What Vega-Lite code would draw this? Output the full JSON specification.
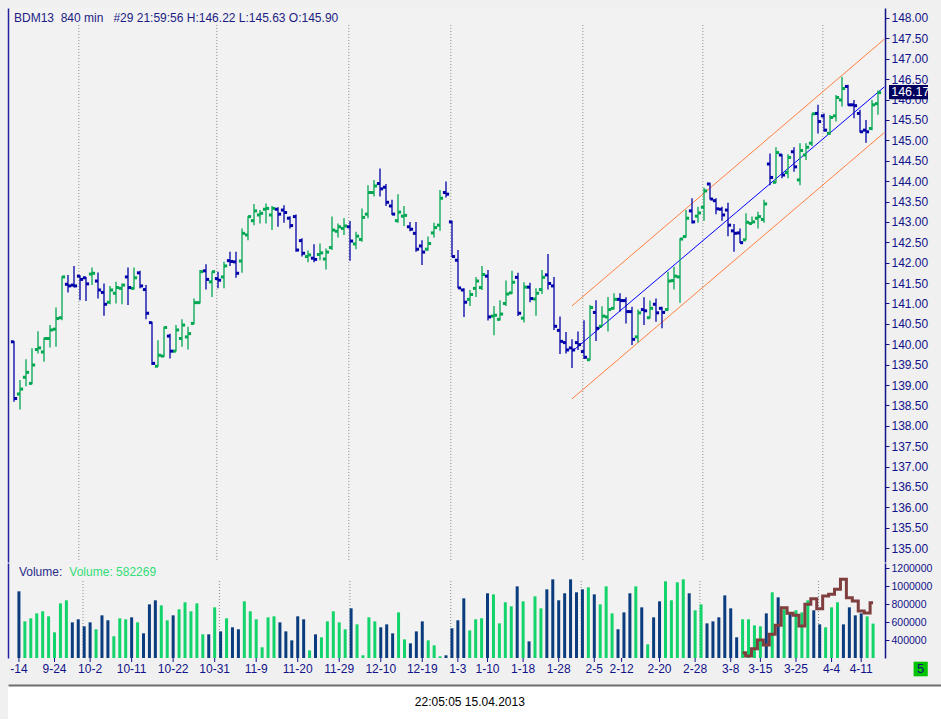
{
  "$schema": "https://vega.github.io/schema/vega-lite/v6.json",
  "background": "#F0F0F0",
  "padding": {"left": 8, "top": 8, "right": 0, "bottom": 0},
  "config": {
    "view": {"stroke": null, "fill": "#F2F2F2"},
    "font": "Liberation Sans",
    "axis": {"grid": false, "domainColor": "#12128A", "tickColor": "#12128A", "labelColor": "#12128A", "labelFont": "Liberation Sans", "domainWidth": 1.5, "tickWidth": 1}
  },
  "datasets": {
    "grid": [{"g": 10.8}, {"g": 33.8}, {"g": 55.8}, {"g": 72.8}, {"g": 94.8}, {"g": 114.8}, {"g": 134.8}],
    "channel": [
      {"line": "mid", "x": 93, "x2": 145.05, "y": 139.82, "y2": 146.31},
      {"line": "edge", "x": 93, "x2": 145.05, "y": 140.94, "y2": 147.48},
      {"line": "edge", "x": 93, "x2": 145.05, "y": 138.66, "y2": 145.19}
    ],
    "ma": [
      {"i": 122, "m": 259000}, {"i": 123, "m": 222000}, {"i": 124, "m": 304000}, {"i": 125, "m": 400000},
      {"i": 126, "m": 344000}, {"i": 127, "m": 463000}, {"i": 128, "m": 563000}, {"i": 129, "m": 759000},
      {"i": 130, "m": 696000}, {"i": 131, "m": 674000}, {"i": 132, "m": 556000}, {"i": 133, "m": 796000},
      {"i": 134, "m": 859000}, {"i": 135, "m": 748000}, {"i": 136, "m": 889000}, {"i": 137, "m": 907000},
      {"i": 138, "m": 963000}, {"i": 139, "m": 1074000}, {"i": 140, "m": 870000}, {"i": 141, "m": 833000},
      {"i": 142, "m": 722000}, {"i": 143, "m": 700000}, {"i": 144, "m": 815000}
    ],
    "ticks": [
      {"t": 0, "lab": "-14"}, {"t": 6, "lab": "9-24"}, {"t": 12, "lab": "10-2"}, {"t": 19, "lab": "10-11"},
      {"t": 26, "lab": "10-22"}, {"t": 33, "lab": "10-31"}, {"t": 40, "lab": "11-9"}, {"t": 47, "lab": "11-20"},
      {"t": 54, "lab": "11-29"}, {"t": 61, "lab": "12-10"}, {"t": 68, "lab": "12-19"}, {"t": 74, "lab": "1-3"},
      {"t": 79, "lab": "1-10"}, {"t": 85, "lab": "1-18"}, {"t": 91, "lab": "1-28"}, {"t": 97, "lab": "2-5"},
      {"t": 101.6, "lab": "2-12"}, {"t": 108, "lab": "2-20"}, {"t": 114, "lab": "2-28"}, {"t": 120, "lab": "3-8"},
      {"t": 125, "lab": "3-15"}, {"t": 131, "lab": "3-25"}, {"t": 137, "lab": "4-4"}, {"t": 142, "lab": "4-11"}
    ],
    "bars": [
      {"i":0,"o":140.06,"h":140.08,"l":138.59,"c":138.67,"v":940800,"d":"d"},
      {"i":1,"o":138.78,"h":139.12,"l":138.40,"c":138.90,"v":607000,"d":"u"},
      {"i":2,"o":139.19,"h":139.63,"l":138.97,"c":139.31,"v":641000,"d":"u"},
      {"i":3,"o":139.04,"h":139.90,"l":139.02,"c":139.49,"v":696000,"d":"u"},
      {"i":4,"o":139.87,"h":140.32,"l":139.77,"c":139.91,"v":719000,"d":"u"},
      {"i":5,"o":139.81,"h":140.16,"l":139.57,"c":140.14,"v":663000,"d":"u"},
      {"i":6,"o":140.14,"h":140.47,"l":139.92,"c":140.35,"v":485000,"d":"u"},
      {"i":7,"o":140.37,"h":140.90,"l":139.94,"c":140.63,"v":807000,"d":"u"},
      {"i":8,"o":140.65,"h":141.67,"l":140.59,"c":141.65,"v":841000,"d":"u"},
      {"i":9,"o":141.47,"h":141.70,"l":141.27,"c":141.43,"v":596000,"d":"d"},
      {"i":10,"o":141.45,"h":141.92,"l":141.39,"c":141.43,"v":630000,"d":"d"},
      {"i":11,"o":141.67,"h":141.69,"l":141.08,"c":141.59,"v":552000,"d":"d"},
      {"i":12,"o":141.63,"h":141.65,"l":141.06,"c":141.48,"v":596000,"d":"d"},
      {"i":13,"o":141.72,"h":141.88,"l":141.45,"c":141.74,"v":519000,"d":"u"},
      {"i":14,"o":141.55,"h":141.76,"l":141.12,"c":141.33,"v":674000,"d":"d"},
      {"i":15,"o":141.27,"h":141.49,"l":140.70,"c":140.98,"v":619000,"d":"d"},
      {"i":16,"o":141.03,"h":141.43,"l":140.98,"c":141.33,"v":441000,"d":"u"},
      {"i":17,"o":141.25,"h":141.53,"l":141.00,"c":141.39,"v":641000,"d":"u"},
      {"i":18,"o":141.37,"h":141.49,"l":140.98,"c":141.45,"v":630000,"d":"u"},
      {"i":19,"o":141.65,"h":141.88,"l":140.96,"c":141.39,"v":652000,"d":"d"},
      {"i":20,"o":141.37,"h":141.88,"l":141.34,"c":141.63,"v":596000,"d":"u"},
      {"i":21,"o":141.75,"h":141.80,"l":141.37,"c":141.43,"v":474000,"d":"d"},
      {"i":22,"o":141.34,"h":141.45,"l":140.61,"c":140.76,"v":796000,"d":"d"},
      {"i":23,"o":140.53,"h":140.55,"l":139.49,"c":139.53,"v":841000,"d":"d"},
      {"i":24,"o":139.46,"h":140.10,"l":139.45,"c":139.73,"v":785000,"d":"u"},
      {"i":25,"o":139.71,"h":140.43,"l":139.69,"c":140.41,"v":619000,"d":"u"},
      {"i":26,"o":140.20,"h":140.26,"l":139.65,"c":139.83,"v":674000,"d":"d"},
      {"i":27,"o":139.83,"h":140.47,"l":139.82,"c":140.35,"v":741000,"d":"u"},
      {"i":28,"o":140.14,"h":140.61,"l":139.94,"c":140.47,"v":819000,"d":"u"},
      {"i":29,"o":140.18,"h":140.43,"l":139.87,"c":140.26,"v":719000,"d":"u"},
      {"i":30,"o":140.51,"h":141.12,"l":140.49,"c":141.02,"v":807000,"d":"u"},
      {"i":31,"o":141.02,"h":141.82,"l":141.00,"c":141.78,"v":463000,"d":"u"},
      {"i":32,"o":141.80,"h":141.96,"l":141.34,"c":141.59,"v":463000,"d":"d"},
      {"i":33,"o":141.53,"h":141.79,"l":141.16,"c":141.78,"v":763000,"d":"u"},
      {"i":34,"o":141.61,"h":141.78,"l":141.37,"c":141.57,"v":496000,"d":"d"},
      {"i":35,"o":141.65,"h":142.02,"l":141.37,"c":141.92,"v":641000,"d":"u"},
      {"i":36,"o":142.05,"h":142.27,"l":141.92,"c":142.03,"v":541000,"d":"d"},
      {"i":37,"o":142.02,"h":142.27,"l":141.63,"c":141.74,"v":519000,"d":"d"},
      {"i":38,"o":142.04,"h":142.84,"l":141.75,"c":142.72,"v":830000,"d":"u"},
      {"i":39,"o":142.68,"h":143.14,"l":142.55,"c":143.13,"v":719000,"d":"u"},
      {"i":40,"o":143.03,"h":143.44,"l":142.92,"c":143.27,"v":630000,"d":"u"},
      {"i":41,"o":143.17,"h":143.29,"l":142.96,"c":143.21,"v":319000,"d":"u"},
      {"i":42,"o":143.31,"h":143.45,"l":142.96,"c":143.33,"v":652000,"d":"u"},
      {"i":43,"o":143.17,"h":143.39,"l":142.80,"c":143.33,"v":663000,"d":"u"},
      {"i":44,"o":143.31,"h":143.36,"l":142.88,"c":143.19,"v":596000,"d":"d"},
      {"i":45,"o":143.29,"h":143.41,"l":142.98,"c":143.23,"v":496000,"d":"d"},
      {"i":46,"o":143.09,"h":143.14,"l":142.84,"c":142.91,"v":396000,"d":"d"},
      {"i":47,"o":143.13,"h":143.18,"l":142.27,"c":142.31,"v":663000,"d":"d"},
      {"i":48,"o":142.54,"h":142.60,"l":142.15,"c":142.23,"v":630000,"d":"d"},
      {"i":49,"o":142.15,"h":142.30,"l":142.01,"c":142.19,"v":285000,"d":"u"},
      {"i":50,"o":142.11,"h":142.45,"l":142.01,"c":142.08,"v":463000,"d":"d"},
      {"i":51,"o":142.20,"h":142.47,"l":142.06,"c":142.24,"v":430000,"d":"u"},
      {"i":52,"o":142.09,"h":142.35,"l":141.83,"c":142.26,"v":607000,"d":"u"},
      {"i":53,"o":142.37,"h":143.13,"l":142.31,"c":142.80,"v":719000,"d":"u"},
      {"i":54,"o":142.77,"h":142.96,"l":142.62,"c":142.88,"v":596000,"d":"u"},
      {"i":55,"o":142.84,"h":143.09,"l":142.68,"c":142.90,"v":519000,"d":"u"},
      {"i":56,"o":142.88,"h":143.02,"l":142.05,"c":142.53,"v":752000,"d":"d"},
      {"i":57,"o":142.46,"h":142.76,"l":142.33,"c":142.65,"v":574000,"d":"u"},
      {"i":58,"o":142.57,"h":143.33,"l":142.51,"c":143.11,"v":230000,"d":"u"},
      {"i":59,"o":143.19,"h":143.90,"l":143.09,"c":143.72,"v":652000,"d":"u"},
      {"i":60,"o":143.72,"h":144.03,"l":143.62,"c":143.88,"v":607000,"d":"u"},
      {"i":61,"o":143.94,"h":144.31,"l":143.62,"c":143.81,"v":541000,"d":"d"},
      {"i":62,"o":143.85,"h":143.93,"l":143.39,"c":143.48,"v":574000,"d":"d"},
      {"i":63,"o":143.39,"h":143.54,"l":143.17,"c":143.19,"v":474000,"d":"d"},
      {"i":64,"o":143.03,"h":143.68,"l":142.98,"c":143.24,"v":707000,"d":"u"},
      {"i":65,"o":143.14,"h":143.39,"l":142.90,"c":143.16,"v":407000,"d":"u"},
      {"i":66,"o":142.88,"h":143.00,"l":142.77,"c":142.82,"v":363000,"d":"d"},
      {"i":67,"o":142.72,"h":143.00,"l":142.27,"c":142.33,"v":496000,"d":"d"},
      {"i":68,"o":142.41,"h":142.55,"l":141.94,"c":142.26,"v":607000,"d":"d"},
      {"i":69,"o":142.33,"h":142.64,"l":142.29,"c":142.47,"v":396000,"d":"u"},
      {"i":70,"o":142.73,"h":142.98,"l":142.62,"c":142.86,"v":341000,"d":"u"},
      {"i":71,"o":142.92,"h":143.78,"l":142.78,"c":143.58,"v":219000,"d":"u"},
      {"i":72,"o":143.72,"h":143.99,"l":143.60,"c":143.68,"v":230000,"d":"d"},
      {"i":73,"o":143.00,"h":143.03,"l":142.13,"c":142.15,"v":530000,"d":"d"},
      {"i":74,"o":142.06,"h":142.31,"l":141.37,"c":141.38,"v":619000,"d":"d"},
      {"i":75,"o":141.33,"h":141.37,"l":140.67,"c":141.03,"v":863000,"d":"d"},
      {"i":76,"o":141.10,"h":141.33,"l":140.94,"c":141.22,"v":507000,"d":"u"},
      {"i":77,"o":141.37,"h":141.65,"l":141.16,"c":141.55,"v":630000,"d":"u"},
      {"i":78,"o":141.39,"h":141.92,"l":141.33,"c":141.71,"v":641000,"d":"u"},
      {"i":79,"o":141.67,"h":141.82,"l":140.58,"c":140.67,"v":919000,"d":"d"},
      {"i":80,"o":140.69,"h":140.94,"l":140.22,"c":140.71,"v":907000,"d":"u"},
      {"i":81,"o":140.61,"h":141.08,"l":140.58,"c":140.74,"v":585000,"d":"u"},
      {"i":82,"o":141.00,"h":141.56,"l":140.94,"c":141.23,"v":819000,"d":"u"},
      {"i":83,"o":141.26,"h":141.80,"l":141.23,"c":141.52,"v":774000,"d":"u"},
      {"i":84,"o":141.64,"h":141.75,"l":140.69,"c":140.76,"v":996000,"d":"d"},
      {"i":85,"o":140.64,"h":141.52,"l":140.53,"c":141.40,"v":830000,"d":"u"},
      {"i":86,"o":141.40,"h":141.51,"l":141.03,"c":141.12,"v":385000,"d":"d"},
      {"i":87,"o":141.11,"h":141.37,"l":140.70,"c":141.25,"v":885000,"d":"u"},
      {"i":88,"o":141.34,"h":141.82,"l":141.23,"c":141.64,"v":752000,"d":"u"},
      {"i":89,"o":141.70,"h":142.21,"l":141.34,"c":141.49,"v":963000,"d":"d"},
      {"i":90,"o":141.43,"h":141.65,"l":140.35,"c":140.44,"v":1074000,"d":"d"},
      {"i":91,"o":140.34,"h":140.68,"l":139.76,"c":140.07,"v":841000,"d":"d"},
      {"i":92,"o":140.04,"h":140.30,"l":139.77,"c":139.86,"v":919000,"d":"d"},
      {"i":93,"o":139.91,"h":140.12,"l":139.42,"c":139.86,"v":1074000,"d":"d"},
      {"i":94,"o":140.04,"h":140.31,"l":139.86,"c":139.99,"v":930000,"d":"d"},
      {"i":95,"o":139.82,"h":140.59,"l":139.64,"c":139.68,"v":963000,"d":"d"},
      {"i":96,"o":139.62,"h":140.96,"l":139.61,"c":140.90,"v":985000,"d":"u"},
      {"i":97,"o":140.78,"h":141.08,"l":140.08,"c":140.39,"v":907000,"d":"d"},
      {"i":98,"o":140.44,"h":140.93,"l":140.43,"c":140.69,"v":796000,"d":"u"},
      {"i":99,"o":140.67,"h":141.16,"l":140.31,"c":140.85,"v":996000,"d":"u"},
      {"i":100,"o":140.88,"h":141.25,"l":140.86,"c":141.10,"v":696000,"d":"u"},
      {"i":101,"o":141.10,"h":141.25,"l":140.80,"c":141.07,"v":519000,"d":"d"},
      {"i":102,"o":141.07,"h":141.15,"l":140.51,"c":140.80,"v":707000,"d":"d"},
      {"i":103,"o":140.80,"h":140.92,"l":139.98,"c":140.12,"v":919000,"d":"d"},
      {"i":104,"o":140.18,"h":140.85,"l":140.04,"c":140.77,"v":996000,"d":"u"},
      {"i":105,"o":140.85,"h":141.15,"l":140.47,"c":140.82,"v":763000,"d":"d"},
      {"i":106,"o":140.65,"h":141.07,"l":140.63,"c":140.88,"v":352000,"d":"u"},
      {"i":107,"o":140.98,"h":141.12,"l":140.55,"c":140.77,"v":652000,"d":"d"},
      {"i":108,"o":140.88,"h":140.92,"l":140.39,"c":140.78,"v":830000,"d":"d"},
      {"i":109,"o":140.85,"h":141.78,"l":140.82,"c":141.55,"v":1052000,"d":"u"},
      {"i":110,"o":141.56,"h":141.90,"l":141.34,"c":141.67,"v":841000,"d":"u"},
      {"i":111,"o":141.65,"h":142.60,"l":141.02,"c":142.58,"v":1041000,"d":"u"},
      {"i":112,"o":142.64,"h":143.29,"l":142.62,"c":143.09,"v":1074000,"d":"u"},
      {"i":113,"o":143.27,"h":143.58,"l":142.96,"c":143.00,"v":919000,"d":"d"},
      {"i":114,"o":143.14,"h":143.37,"l":142.98,"c":143.22,"v":730000,"d":"u"},
      {"i":115,"o":143.36,"h":143.84,"l":143.03,"c":143.76,"v":796000,"d":"u"},
      {"i":116,"o":143.93,"h":143.96,"l":143.55,"c":143.56,"v":585000,"d":"d"},
      {"i":117,"o":143.52,"h":143.58,"l":143.19,"c":143.32,"v":607000,"d":"d"},
      {"i":118,"o":143.31,"h":143.37,"l":143.03,"c":143.17,"v":652000,"d":"d"},
      {"i":119,"o":143.29,"h":143.47,"l":142.65,"c":142.92,"v":896000,"d":"d"},
      {"i":120,"o":142.78,"h":142.95,"l":142.27,"c":142.72,"v":752000,"d":"d"},
      {"i":121,"o":142.73,"h":142.84,"l":142.48,"c":142.49,"v":430000,"d":"d"},
      {"i":122,"o":142.56,"h":143.21,"l":142.55,"c":142.99,"v":630000,"d":"u"},
      {"i":123,"o":142.96,"h":143.13,"l":142.95,"c":143.00,"v":630000,"d":"u"},
      {"i":124,"o":143.09,"h":143.25,"l":142.84,"c":143.13,"v":563000,"d":"u"},
      {"i":125,"o":143.06,"h":143.54,"l":142.98,"c":143.44,"v":552000,"d":"u"},
      {"i":126,"o":144.42,"h":144.68,"l":143.90,"c":144.09,"v":696000,"d":"d"},
      {"i":127,"o":143.97,"h":144.83,"l":143.96,"c":144.70,"v":930000,"d":"u"},
      {"i":128,"o":144.64,"h":144.66,"l":144.07,"c":144.15,"v":874000,"d":"d"},
      {"i":129,"o":144.21,"h":144.66,"l":144.07,"c":144.58,"v":741000,"d":"u"},
      {"i":130,"o":144.72,"h":144.83,"l":144.23,"c":144.35,"v":696000,"d":"d"},
      {"i":131,"o":144.03,"h":144.93,"l":143.90,"c":144.75,"v":730000,"d":"u"},
      {"i":132,"o":144.64,"h":144.93,"l":144.52,"c":144.83,"v":707000,"d":"u"},
      {"i":133,"o":144.93,"h":145.66,"l":144.86,"c":145.65,"v":841000,"d":"u"},
      {"i":134,"o":145.66,"h":145.87,"l":145.17,"c":145.46,"v":730000,"d":"d"},
      {"i":135,"o":145.60,"h":145.66,"l":145.21,"c":145.25,"v":574000,"d":"d"},
      {"i":136,"o":145.17,"h":145.62,"l":145.13,"c":145.56,"v":541000,"d":"u"},
      {"i":137,"o":145.60,"h":146.11,"l":145.46,"c":146.05,"v":763000,"d":"u"},
      {"i":138,"o":145.99,"h":146.56,"l":145.83,"c":146.27,"v":819000,"d":"u"},
      {"i":139,"o":146.32,"h":146.36,"l":145.85,"c":145.87,"v":574000,"d":"d"},
      {"i":140,"o":145.87,"h":145.99,"l":145.54,"c":145.85,"v":763000,"d":"d"},
      {"i":141,"o":145.66,"h":145.75,"l":145.19,"c":145.21,"v":674000,"d":"d"},
      {"i":142,"o":145.25,"h":145.50,"l":144.94,"c":145.21,"v":696000,"d":"d"},
      {"i":143,"o":145.29,"h":145.99,"l":145.25,"c":145.87,"v":663000,"d":"u"},
      {"i":144,"o":145.90,"h":146.22,"l":145.63,"c":146.17,"v":582269,"d":"u"}
    ]
  },
  "spacing": 8,
  "vconcat": [
    {
      "spacing": 0,
      "vconcat": [
        {
          "width": 877,
          "height": 554,
          "resolve": {"axis": {"y": "independent"}},
          "layer": [
            {
              "data": {"name": "grid"},
              "mark": {"type": "rule", "color": "#8A8A8A", "strokeDash": [1, 2], "strokeWidth": 1},
              "encoding": {
                "x": {"field": "g", "type": "quantitative", "scale": {"domain": [-1, 145.1667], "nice": false, "zero": false},
                      "axis": {"orient": "top", "labels": false, "ticks": false, "domainColor": "#7A7A7A", "domainWidth": 1.5, "title": null}},
                "y": {"datum": 147.83, "type": "quantitative", "scale": {"domain": [134.66, 148.245], "nice": false, "zero": false},
                      "axis": {"orient": "left", "labels": false, "ticks": false, "domainColor": "#2222A0", "domainWidth": 1.5, "title": null}},
                "y2": {"datum": 134.66}
              }
            },
            {
              "data": {"name": "channel"},
              "mark": {"type": "rule", "strokeWidth": 1},
              "encoding": {
                "x": {"field": "x", "type": "quantitative", "axis": null},
                "x2": {"field": "x2"},
                "y": {"field": "y", "type": "quantitative", "axis": null},
                "y2": {"field": "y2"},
                "color": {"condition": {"test": "datum.line === 'mid'", "value": "#0000FF"}, "value": "#FF7F3F"}
              }
            },
            {
              "data": {"name": "bars"},
              "mark": {"type": "rule", "strokeWidth": 1.3},
              "encoding": {
                "x": {"field": "i", "type": "quantitative", "axis": null},
                "y": {"field": "l", "type": "quantitative",
                      "axis": {"orient": "right", "title": null, "values": [135,135.5,136,136.5,137,137.5,138,138.5,139,139.5,140,140.5,141,141.5,142,142.5,143,143.5,144,144.5,145,145.5,146,146.5,147,147.5,148],
                               "format": ".2f", "tickSize": 4, "labelPadding": 2, "labelFontSize": 12, "labelBaseline": "middle"}},
                "y2": {"field": "h"},
                "color": {"condition": {"test": "datum.d === 'u'", "value": "#00A651"}, "value": "#0000A8"}
              }
            },
            {
              "data": {"name": "bars"},
              "mark": {"type": "square", "size": 9, "opacity": 1, "xOffset": -1.6},
              "encoding": {
                "x": {"field": "i", "type": "quantitative", "axis": null},
                "y": {"field": "o", "type": "quantitative", "axis": null},
                "color": {"condition": {"test": "datum.d === 'u'", "value": "#00A651"}, "value": "#0000A8"}
              }
            },
            {
              "data": {"name": "bars"},
              "mark": {"type": "square", "size": 9, "opacity": 1, "xOffset": 1.6},
              "encoding": {
                "x": {"field": "i", "type": "quantitative", "axis": null},
                "y": {"field": "c", "type": "quantitative", "axis": null},
                "color": {"condition": {"test": "datum.d === 'u'", "value": "#00A651"}, "value": "#0000A8"}
              }
            },
            {
              "data": {"values": [{}]},
              "mark": {"type": "text", "align": "left", "baseline": "alphabetic", "fontSize": 12, "color": "#1C1C84"},
              "encoding": {
                "x": {"datum": 0, "type": "quantitative", "axis": null},
                "y": {"datum": 147.9, "type": "quantitative", "axis": null},
                "text": {"value": "BDM13\u00a0\u00a0840 min\u00a0\u00a0\u00a0#29 21:59:56 H:146.22 L:145.63 O:145.90"}
              }
            },
            {
              "data": {"values": [{}]},
              "mark": {"type": "rect", "color": "#00005E", "clip": false},
              "encoding": {
                "x": {"datum": 145.83, "type": "quantitative", "axis": null},
                "x2": {"datum": 152.33},
                "y": {"datum": 146.006, "type": "quantitative", "axis": null},
                "y2": {"datum": 146.356}
              }
            },
            {
              "data": {"values": [{}]},
              "mark": {"type": "text", "align": "left", "baseline": "middle", "fontSize": 12.5, "color": "#FFFFFF", "clip": false},
              "encoding": {
                "x": {"datum": 146.2, "type": "quantitative", "axis": null},
                "y": {"datum": 146.18, "type": "quantitative", "axis": null},
                "text": {"value": "146.17"}
              }
            }
          ]
        },
        {
          "width": 877,
          "height": 95,
          "resolve": {"axis": {"y": "independent"}},
          "layer": [
            {
              "data": {"name": "grid"},
              "mark": {"type": "rule", "color": "#8A8A8A", "strokeDash": [1, 2], "strokeWidth": 1},
              "encoding": {
                "x": {"field": "g", "type": "quantitative", "scale": {"domain": [-1, 145.1667], "nice": false, "zero": false}, "axis": null},
                "y": {"datum": 1055556, "type": "quantitative", "scale": {"domain": [200000, 1255556], "nice": false, "zero": false},
                      "axis": {"orient": "left", "labels": false, "ticks": false, "domainColor": "#2222A0", "domainWidth": 1.5, "title": null}},
                "y2": {"datum": 200000}
              }
            },
            {
              "data": {"name": "bars"},
              "mark": {"type": "bar", "size": 3},
              "encoding": {
                "x": {"field": "i", "type": "quantitative", "axis": null},
                "y": {"field": "v", "type": "quantitative",
                      "axis": {"orient": "right", "title": null, "values": [400000, 600000, 800000, 1000000, 1200000], "format": "d",
                               "tickSize": 4, "labelPadding": 2, "labelFontSize": 10.5, "labelBaseline": "middle"}},
                "y2": {"datum": 200000},
                "color": {"condition": {"test": "datum.d === 'u'", "value": "#12D46A"}, "value": "#0B3D7E"}
              }
            },
            {
              "data": {"name": "ma"},
              "mark": {"type": "line", "interpolate": "step", "color": "#7F3F3F", "strokeWidth": 3},
              "encoding": {
                "x": {"field": "i", "type": "quantitative", "axis": null},
                "y": {"field": "m", "type": "quantitative", "axis": null}
              }
            },
            {
              "data": {"name": "ticks"},
              "mark": {"type": "rule", "color": "#12128A", "strokeWidth": 1, "clip": false, "yOffset": 0},
              "encoding": {
                "x": {"field": "t", "type": "quantitative", "axis": null},
                "y": {"datum": 200000, "type": "quantitative", "axis": null},
                "y2": {"datum": 155556}
              }
            },
            {
              "data": {"name": "ticks"},
              "mark": {"type": "text", "align": "center", "baseline": "top", "fontSize": 12, "color": "#12128A", "clip": false},
              "encoding": {
                "x": {"field": "t", "type": "quantitative", "axis": null},
                "y": {"datum": 133333, "type": "quantitative", "axis": null},
                "text": {"field": "lab"}
              }
            },
            {
              "data": {"values": [{}]},
              "mark": {"type": "text", "align": "left", "baseline": "alphabetic", "fontSize": 12, "color": "#2A2A8A"},
              "encoding": {
                "x": {"datum": 0, "type": "quantitative", "axis": null},
                "y": {"datum": 1111111, "type": "quantitative", "axis": null},
                "text": {"value": "Volume:"}
              }
            },
            {
              "data": {"values": [{}]},
              "mark": {"type": "text", "align": "left", "baseline": "alphabetic", "fontSize": 12, "color": "#33DD77"},
              "encoding": {
                "x": {"datum": 8.5, "type": "quantitative", "axis": null},
                "y": {"datum": 1111111, "type": "quantitative", "axis": null},
                "text": {"value": "Volume: 582269"}
              }
            },
            {
              "data": {"values": [{}]},
              "mark": {"type": "rect", "color": "#00C400", "clip": false},
              "encoding": {
                "x": {"datum": 150.83, "type": "quantitative",
                      "axis": {"orient": "bottom", "labels": false, "ticks": false, "domainColor": "#12128A", "domainWidth": 2, "title": null}},
                "x2": {"datum": 153.22},
                "y": {"datum": -3333, "type": "quantitative", "axis": null},
                "y2": {"datum": 158889}
              }
            },
            {
              "data": {"values": [{}]},
              "mark": {"type": "text", "align": "center", "baseline": "middle", "fontSize": 13, "color": "#10107A", "clip": false},
              "encoding": {
                "x": {"datum": 152.02, "type": "quantitative", "axis": null},
                "y": {"datum": 77778, "type": "quantitative", "axis": null},
                "text": {"value": "5"}
              }
            }
          ]
        }
      ]
    },
    {
      "width": 933,
      "height": 34,
      "view": {"fill": "#FFFFFF", "stroke": null},
      "data": {"values": [{}]},
      "mark": {"type": "text", "align": "center", "baseline": "middle", "fontSize": 12, "color": "#000000"},
      "encoding": {
        "x": {"datum": 0.495, "type": "quantitative", "scale": {"domain": [0, 1]},
              "axis": {"orient": "top", "labels": false, "ticks": false, "domainColor": "#6E6E6E", "domainWidth": 2, "title": null}},
        "y": {"datum": 0.5, "type": "quantitative", "scale": {"domain": [0, 1]}, "axis": null},
        "text": {"value": "22:05:05 15.04.2013"}
      }
    }
  ]
}
